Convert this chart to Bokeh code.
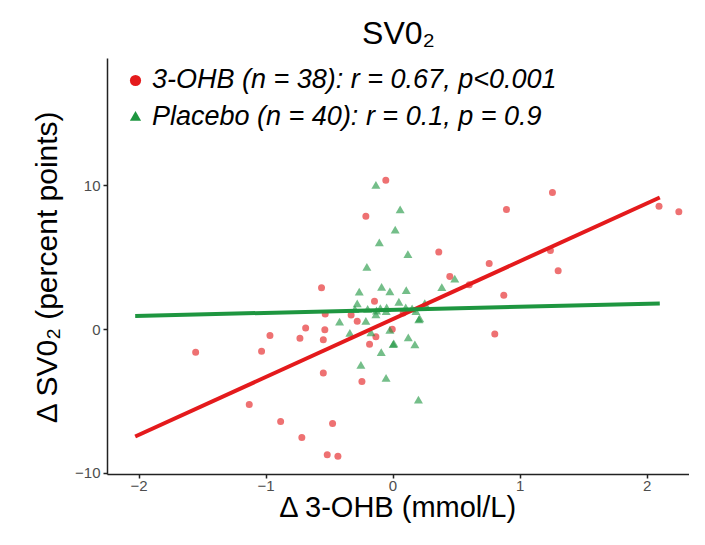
from bokeh.plotting import figure
from bokeh.models import Legend, LegendItem, FixedTicker, Range1d, ColumnDataSource
from bokeh.core.properties import value
from bokeh.embed import file_html
from bokeh.resources import INLINE

# ---- data ----
ohb_x = [-0.057, -0.214, -0.563, -0.146, -0.534, 0.36, 0.893, 1.255, 2.094, 2.25,
         0.757, 1.239, 1.30, 0.447, 0.872, -0.282, -0.688, -0.537, -0.733, -0.549,
         -0.135, -0.006, -0.185, 0.801, -0.549, -0.245, -0.476, -0.969, -1.554, -1.035,
         -1.132, -0.885, -0.718, -0.518, -0.434, 0.08, -0.33, 0.60]
ohb_y = [10.39, 7.88, 2.91, 1.98, 1.08, 5.39, 8.36, 9.53, 8.58, 8.20,
         4.60, 5.50, 4.10, 3.70, 2.39, 0.59, 0.11, 0.00, -0.59, -0.70,
         -0.49, 0.03, -1.01, -0.31, -3.01, -3.60, -6.53, -0.40, -1.57, -1.51,
         -5.20, -6.39, -7.50, -8.69, -8.80, 1.15, 1.02, 3.12]

pla_x = [-0.135, -0.108, -0.206, -0.266, -0.282, 0.056, 0.017, 0.117, 0.486, 0.384,
         -0.09, -0.025, 0.104, 0.046, -0.13, -0.054, 0.18, -0.421, -0.214, -0.135,
         0.203, -0.34, -0.174, -0.025, 0.001, 0.12, 0.172, -0.093, -0.253, -0.055,
         0.20, 0.006, 0.21, -0.20, 0.10, -0.05, 0.25, -0.30, 0.15, -0.10]
pla_y = [9.98, 5.97, 4.28, 2.55, 1.74, 8.27, 6.87, 5.16, 3.45, 2.86,
         2.88, 2.57, 2.66, 1.85, 1.24, 1.20, 1.20, 0.47, 0.52, 0.97,
         0.63, -0.31, -0.27, -0.11, -1.10, -0.63, -1.12, -1.66, -2.54, -3.44,
         -4.95, -1.05, 0.70, 1.35, 1.45, 1.45, 1.75, 1.33, 1.38, 1.40]

fit_x = [-2.03, 2.10]
ohb_fit_y = [-7.43, 9.19]
pla_fit_y = [0.95, 1.82]

x_ticks = [-2, -1, 0, 1, 2]
y_ticks = [-10, 0, 10]
legend_labels = ["3-OHB (n = 38): r = 0.67, p<0.001",
                 "Placebo (n = 40): r = 0.1, p = 0.9"]
title_text = "SV0\u2082"
x_label = "\u0394 3-OHB (mmol/L)"
y_label = "\u0394 SV0\u2082 (percent points)"

# ---- styling ----
RED = "#E41A1C"
GREEN = "#1E9640"
FONT = "Liberation Sans"

p = figure(width=689, height=529, output_backend="svg", toolbar_location=None,
           x_range=Range1d(-2.248, 2.334), y_range=Range1d(-10.07, 18.85),
           min_border_left=107, min_border_right=0, min_border_top=58,
           min_border_bottom=55)
p.outline_line_color = None
p.xgrid.visible = False
p.ygrid.visible = False
p.background_fill_color = "white"
p.border_fill_color = "white"

p.title.text = title_text
p.title.align = "center"
p.title.text_font = FONT
p.title.text_font_size = "32px"
p.title.text_font_style = "normal"
p.title.text_color = "black"
p.title.standoff = 16

for ax, ticks, lab in ((p.xaxis[0], x_ticks, x_label), (p.yaxis[0], y_ticks, y_label)):
    ax.ticker = FixedTicker(ticks=ticks)
    ax.axis_label = lab
    ax.axis_label_text_font = FONT
    ax.axis_label_text_font_size = "30px"
    ax.axis_label_text_font_style = "normal"
    ax.axis_label_text_color = "black"
    ax.major_label_text_font = FONT
    ax.major_label_text_font_size = "15px"
    ax.major_label_text_color = "#4D4D4D"
    ax.axis_line_color = "#222222"
    ax.axis_line_width = 1.5
    ax.major_tick_line_color = "#222222"
    ax.major_tick_line_width = 1.5
    ax.major_tick_in = 0
    ax.major_tick_out = 4
    ax.minor_tick_line_color = None
    ax.major_label_standoff = 3

p.xaxis.axis_label_text_font_size = "29px"
p.xaxis.major_label_standoff = 2
p.xaxis.axis_label_standoff = -3
p.yaxis.axis_label_standoff = 9

src_ohb = ColumnDataSource(dict(x=ohb_x, y=ohb_y))
src_pla = ColumnDataSource(dict(x=pla_x, y=pla_y))
p.scatter("x", "y", source=src_ohb, marker="circle", size=7,
          fill_color=RED, line_color=None, fill_alpha=0.62)
p.scatter("x", "y", source=src_pla, marker="triangle", size=9,
          fill_color=GREEN, line_color=None, fill_alpha=0.62)

p.line(fit_x, ohb_fit_y, line_color=RED, line_width=4)
p.line(fit_x, pla_fit_y, line_color=GREEN, line_width=4)

# legend swatches (solid, no visible data)
nan = float("nan")
leg_red = p.scatter(x=[nan], y=[nan], marker="circle", fill_color=RED, line_color=None)
leg_green = p.scatter(x=[nan], y=[nan], marker="triangle", fill_color=GREEN, line_color=None)

legend = Legend(items=[LegendItem(label=value(legend_labels[0]), renderers=[leg_red]),
                       LegendItem(label=value(legend_labels[1]), renderers=[leg_green])],
                location=(14, 342), orientation="vertical")
legend.border_line_color = None
legend.background_fill_alpha = 0
legend.padding = 0
legend.margin = 0
legend.spacing = 6
legend.glyph_width = 28
legend.glyph_height = 28
legend.label_height = 30
legend.label_standoff = 3
legend.label_text_font = FONT
legend.label_text_font_size = "27px"
legend.label_text_font_style = "italic"
legend.label_text_color = "black"
legend.label_text_baseline = "middle"
p.add_layout(legend)

open("out.html", "w").write(file_html(p, INLINE))
